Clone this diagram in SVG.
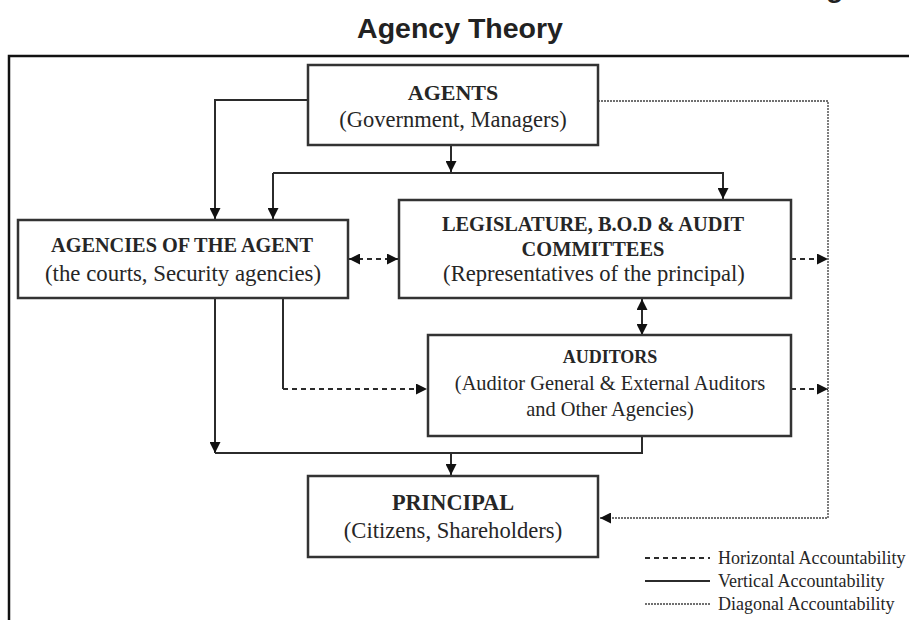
<svg xmlns="http://www.w3.org/2000/svg" width="909" height="620" viewBox="0 0 909 620">
  <style>
    .box { fill: #ffffff; stroke: #333333; stroke-width: 2.5; }
    .hd { font-family: "Liberation Serif", "Times New Roman", serif; font-weight: bold; fill: #262626; text-anchor: middle; }
    .tx { font-family: "Liberation Serif", "Times New Roman", serif; fill: #262626; text-anchor: middle; }
    .solid { fill: none; stroke: #2b2b2b; stroke-width: 2; }
    .dash { fill: none; stroke: #2b2b2b; stroke-width: 2; stroke-dasharray: 5 4; }
    .dot { fill: none; stroke: #707070; stroke-width: 1.8; stroke-dasharray: 2 1; }
    .leg { font-family: "Liberation Serif", "Times New Roman", serif; font-size: 18px; fill: #262626; }
  </style>
  <defs>
    <marker id="arr" viewBox="0 0 10 10" refX="10" refY="5" markerWidth="11" markerHeight="11" markerUnits="userSpaceOnUse" orient="auto-start-reverse">
      <path d="M0,0 L10,5 L0,10 Z" fill="#111111"/>
    </marker>
  </defs>

  <rect x="0" y="0" width="909" height="620" fill="#ffffff"/>

  <!-- title lines (first line runs past the top edge) -->
  <text x="826" y="-3" font-family="Liberation Sans, Arial, sans-serif" font-weight="bold" font-size="28.5" fill="#222222">g</text>
  <text x="460" y="38" font-family="Liberation Sans, Arial, sans-serif" font-weight="bold" font-size="28.5" fill="#222222" text-anchor="middle">Agency Theory</text>

  <!-- frame -->
  <path d="M9,620 V56 H909" fill="none" stroke="#111111" stroke-width="2.5"/>

  <g id="connectors">
    <!-- vertical accountability -->
    <path class="solid" d="M308,100 H215 V219" marker-end="url(#arr)"/>
    <path class="solid" d="M451,145 V172" marker-end="url(#arr)"/>
    <path class="solid" d="M273,173 V219" marker-end="url(#arr)"/>
    <path class="solid" d="M273,173 H723 V199" marker-end="url(#arr)"/>
    <path class="solid" d="M215,298 V453" marker-end="url(#arr)"/>
    <path class="solid" d="M215,453 H642 V436"/>
    <path class="solid" d="M451,453 V475" marker-end="url(#arr)"/>
    <path class="solid" d="M642,299 V335" marker-start="url(#arr)" marker-end="url(#arr)"/>
    <path class="solid" d="M283,298 V389"/>
    <!-- horizontal accountability -->
    <path class="dash" d="M283,389 H427" marker-end="url(#arr)"/>
    <path class="dash" d="M349,259 H398" marker-start="url(#arr)" marker-end="url(#arr)"/>
    <path class="dash" d="M791,259 H828" marker-end="url(#arr)"/>
    <path class="dash" d="M791,389 H828" marker-end="url(#arr)"/>
    <!-- diagonal accountability -->
    <path class="dot" d="M598,101 H828 V518 H600" marker-end="url(#arr)"/>
  </g>

  <g id="agents">
    <rect class="box" x="308" y="65" width="290" height="80"/>
    <text class="hd" x="453" y="100" font-size="22">AGENTS</text>
    <text class="tx" x="453" y="127" font-size="22.5">(Government, Managers)</text>
  </g>

  <g id="agencies">
    <rect class="box" x="18" y="220" width="330" height="78"/>
    <text class="hd" x="182" y="252" font-size="20.3">AGENCIES OF THE AGENT</text>
    <text class="tx" x="183" y="281" font-size="22.8">(the courts, Security agencies)</text>
  </g>

  <g id="legislature">
    <rect class="box" x="399" y="200" width="392" height="98"/>
    <text class="hd" x="593" y="231" font-size="20.4">LEGISLATURE, B.O.D &amp; AUDIT</text>
    <text class="hd" x="593" y="256" font-size="20.4">COMMITTEES</text>
    <text class="tx" x="594" y="281" font-size="22.6">(Representatives of the principal)</text>
  </g>

  <g id="auditors">
    <rect class="box" x="428" y="335" width="363" height="101"/>
    <text class="hd" x="610" y="363" font-size="18">AUDITORS</text>
    <text class="tx" x="610" y="390" font-size="20.4">(Auditor General &amp; External Auditors</text>
    <text class="tx" x="610" y="416" font-size="20.4">and Other Agencies)</text>
  </g>

  <g id="principal">
    <rect class="box" x="308" y="476" width="290" height="81"/>
    <text class="hd" x="453" y="510" font-size="22.3">PRINCIPAL</text>
    <text class="tx" x="453" y="538" font-size="22.6">(Citizens, Shareholders)</text>
  </g>

  <g id="legend">
    <line class="dash" x1="645" y1="558" x2="710" y2="558" stroke-dasharray="4 4"/>
    <text class="leg" x="718" y="564">Horizontal Accountability</text>
    <line class="solid" x1="645" y1="581" x2="710" y2="581" stroke-width="2.5"/>
    <text class="leg" x="718" y="587">Vertical Accountability</text>
    <line class="dot" x1="645" y1="604" x2="710" y2="604"/>
    <text class="leg" x="718" y="610">Diagonal Accountability</text>
  </g>
</svg>
